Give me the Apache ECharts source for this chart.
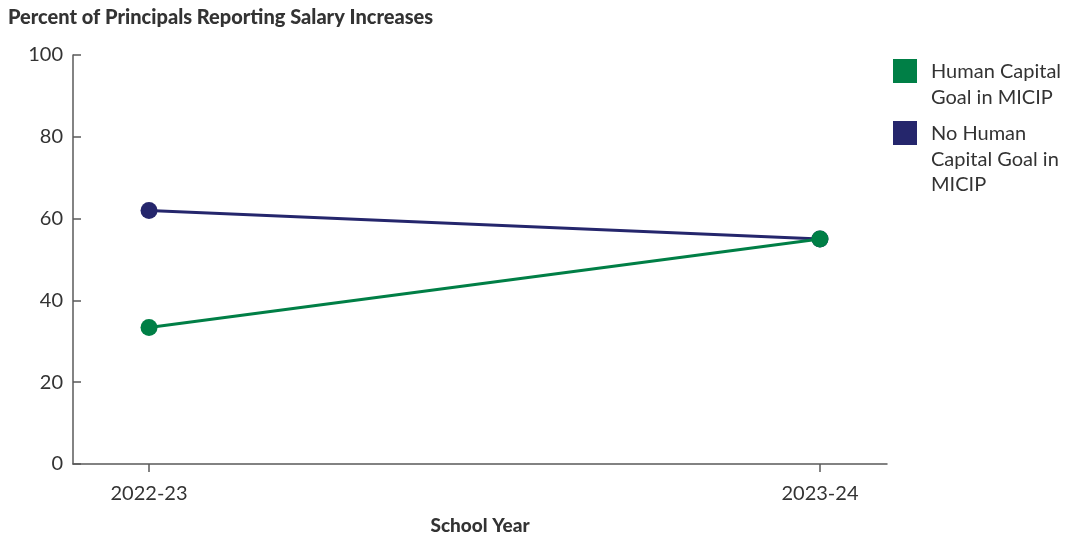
<!DOCTYPE html>
<html>
<head>
<meta charset="utf-8">
<script src="https://cdn.jsdelivr.net/npm/echarts@6/dist/echarts.min.js"></script>
<style>
  html, body { margin: 0; padding: 0; background: #fff; }
  #chart { width: 1065px; height: 535px; }
</style>
</head>
<body>
<div id="chart"></div>
<script>
// School years on the x axis
const years = ['2022-23', '2023-24'];
// Percent of principals reporting salary increases
const humanCapital = [33.4, 55.0];
const noHumanCapital = [62.0, 55.0];
const seriesNames = ['Human Capital\nGoal in MICIP', 'No Human\nCapital Goal in\nMICIP'];
const yTicks = [0, 20, 40, 60, 80, 100];

const GREEN = '#007f46';
const NAVY = '#25266c';
const TEXT = '#333333';
const AXIS = '#5a5a5a';
const FONT = 'Lato, "Open Sans", sans-serif';

const chart = echarts.init(document.getElementById('chart'), null, { renderer: 'canvas' });

function pairs(vals) { return vals.map((v, i) => [i, v]); }

// Legend drawn as squares with wrapped labels aligned to the first line
const legendItems = [
  { name: seriesNames[0], color: GREEN, top: 59 },
  { name: seriesNames[1], color: NAVY, top: 121 }
];
const graphics = [];
legendItems.forEach(it => {
  graphics.push({
    type: 'rect', left: 893, top: it.top,
    shape: { width: 24, height: 24 },
    style: { fill: it.color }
  });
  graphics.push({
    type: 'text', left: 931, top: it.top,
    style: { text: it.name, fill: TEXT, font: '20px ' + FONT, lineHeight: 25.5 }
  });
});

chart.setOption({
  animation: false,
  backgroundColor: '#fff',
  title: {
    text: 'Percent of Principals Reporting Salary Increases',
    left: 3, top: 3,
    textStyle: { fontFamily: FONT, fontSize: 20, fontWeight: 900, color: TEXT }
  },
  grid: { left: 73, right: 178, top: 55, bottom: 71, outerBoundsMode: 'none', containLabel: false },
  xAxis: {
    type: 'value',
    min: -0.1133, max: 1.0999,
    name: 'School Year', nameLocation: 'middle', nameGap: 52,
    nameTextStyle: { fontFamily: FONT, fontSize: 19, fontWeight: 900, color: TEXT },
    axisLine: { show: true, onZero: false, lineStyle: { color: AXIS, width: 1.5 } },
    axisTick: { show: true, customValues: [0, 1], length: 8, lineStyle: { color: AXIS, width: 1.5 } },
    axisLabel: {
      customValues: [0, 1], margin: 20,
      formatter: v => years[Math.round(v)] || '',
      fontFamily: FONT, fontSize: 20, color: TEXT
    },
    splitLine: { show: false }
  },
  yAxis: {
    type: 'value', min: 0, max: 100, interval: 20,
    axisLine: { show: true, onZero: false, lineStyle: { color: AXIS, width: 1.5 } },
    axisTick: { show: true, length: 8, inside: true, lineStyle: { color: AXIS, width: 1.5 } },
    axisLabel: {
      margin: 10, fontFamily: FONT, fontSize: 20, color: TEXT,
      formatter: v => yTicks.includes(v) ? String(v) : ''
    },
    splitLine: { show: false }
  },
  series: [
    {
      name: seriesNames[1], type: 'line', data: pairs(noHumanCapital),
      symbol: 'circle', symbolSize: 17, z: 2,
      lineStyle: { color: NAVY, width: 3 },
      itemStyle: { color: NAVY }
    },
    {
      name: seriesNames[0], type: 'line', data: pairs(humanCapital),
      symbol: 'circle', symbolSize: 17, z: 3,
      lineStyle: { color: GREEN, width: 3 },
      itemStyle: { color: GREEN }
    }
  ],
  graphic: graphics
});
</script>
</body>
</html>
